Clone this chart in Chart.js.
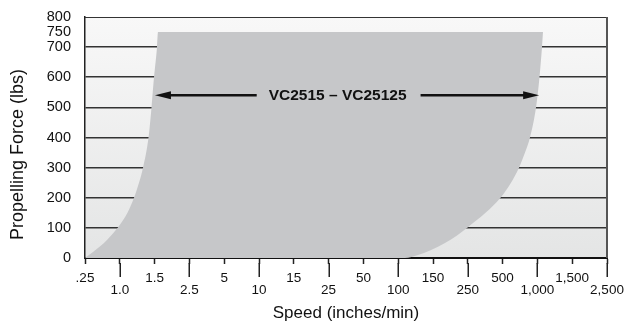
<!DOCTYPE html>
<html>
<head>
<meta charset="utf-8">
<script src="https://cdn.jsdelivr.net/npm/chart.js@4.4.0/dist/chart.umd.min.js"></script>
<style>
  html, body { margin: 0; padding: 0; background: #fff; }
  #wrap { width: 626px; height: 325px; }
</style>
</head>
<body>
<div id="wrap"><canvas id="forceChart" width="626" height="325"></canvas></div>
<script>
// speed axis is evenly spaced, labels are not
const speedLabels = ['.25', '1.0', '1.5', '2.5', '5', '10', '15', '25', '50', '100', '150', '250', '500', '1,000', '1,500', '2,500'];
const forceTicks = [0, 100, 200, 300, 400, 500, 600, 700, 750, 800];

// left edge of the envelope + flat top (x = position on speed axis, y = lbs)
const leftEdgeX = [0, 0.23, 0.445, 0.632, 0.79, 0.934, 1.092, 1.221, 1.408, 1.552, 1.667, 1.825, 1.911, 1.983, 2.069, 2.098, 13.16];
const leftEdgeY = [0, 20, 40, 60, 80, 100, 125, 150, 200, 250, 300, 400, 500, 600, 700, 750, 750];
// right edge of the envelope
const rightEdgeX = [0, 9.195, 9.569, 9.914, 10.345, 10.69, 10.977, 11.25, 11.509, 11.94, 12.241, 12.471, 12.644, 12.787, 12.96, 13.06, 13.132, 13.161];
const rightEdgeY = [0, 0, 10, 25, 50, 75, 100, 125, 150, 200, 250, 300, 350, 400, 500, 600, 700, 750];

// range arrow
const arrowLabel = 'VC2515 \u2013 VC25125';
const arrowForce = 540;
const arrowFrom = 2.01;
const arrowTo = 13.05;
const arrowLabelAt = 7.26;

const xTitle = 'Speed (inches/min)';
const yTitle = 'Propelling Force (lbs)';

const regular = "'Liberation Sans', Arial, sans-serif";

const toPoints = (xs, ys) => xs.map((v, i) => ({ x: v, y: ys[i] }));

const envelopeDecor = {
  id: 'envelopeDecor',
  beforeDraw(chart) {
    const { ctx, chartArea: a } = chart;
    const g = ctx.createLinearGradient(0, a.top, 0, a.bottom);
    g.addColorStop(0, '#f8f8f8');
    g.addColorStop(1, '#e4e5e5');
    ctx.save();
    ctx.fillStyle = g;
    ctx.fillRect(a.left, a.top, a.right - a.left, a.bottom - a.top);
    ctx.restore();
  },
  afterDraw(chart) {
    const { ctx, chartArea: a, scales: { x, y } } = chart;
    ctx.save();

    // top and right frame
    ctx.strokeStyle = '#333';
    ctx.lineWidth = 1.2;
    ctx.beginPath();
    ctx.moveTo(a.left, a.top + 0.5);
    ctx.lineTo(a.right, a.top + 0.5);
    ctx.stroke();
    ctx.strokeStyle = '#555';
    ctx.lineWidth = 2;
    ctx.beginPath();
    ctx.moveTo(a.right, a.top);
    ctx.lineTo(a.right, a.bottom);
    ctx.stroke();

    // longer ticks under the lower row of labels
    ctx.strokeStyle = '#222';
    ctx.lineWidth = 1.5;
    ctx.beginPath();
    speedLabels.forEach((lab, i) => {
      if (i % 2) {
        const px = Math.round(x.getPixelForValue(i)) + 0.25;
        ctx.moveTo(px, a.bottom + 5);
        ctx.lineTo(px, a.bottom + 19);
      }
    });
    ctx.stroke();

    // range arrow
    const ay = y.getPixelForValue(arrowForce);
    const xl = x.getPixelForValue(arrowFrom);
    const xr = x.getPixelForValue(arrowTo);
    const xc = x.getPixelForValue(arrowLabelAt);
    ctx.font = 'bold 15.5px ' + regular;
    const tw = ctx.measureText(arrowLabel).width;
    ctx.fillStyle = '#111';
    ctx.textAlign = 'center';
    ctx.textBaseline = 'middle';
    ctx.fillText(arrowLabel, xc, ay);
    ctx.strokeStyle = '#111';
    ctx.lineWidth = 2.5;
    ctx.beginPath();
    ctx.moveTo(xl + 12, ay);
    ctx.lineTo(xc - tw / 2 - 12, ay);
    ctx.moveTo(xc + tw / 2 + 14, ay);
    ctx.lineTo(xr - 12, ay);
    ctx.stroke();
    const head = (px, dir) => {
      ctx.beginPath();
      ctx.moveTo(px, ay);
      ctx.lineTo(px + dir * 16, ay - 4);
      ctx.lineTo(px + dir * 16, ay + 4);
      ctx.closePath();
      ctx.fill();
    };
    head(xl, 1);
    head(xr, -1);

    // axis titles
    ctx.font = '17px ' + regular;
    ctx.fillText(xTitle, (a.left + a.right) / 2, 313);
    ctx.translate(18, (a.top + a.bottom) / 2 + 17);
    ctx.rotate(-Math.PI / 2);
    ctx.font = '18px ' + regular;
    ctx.fillText(yTitle, 0, 0);

    ctx.restore();
  }
};

const ctx = document.getElementById('forceChart').getContext('2d');
const forceChart = new Chart(ctx, {
  type: 'line',
  data: {
    datasets: [{
      label: 'VC2515 - VC25125',
      data: toPoints(leftEdgeX, leftEdgeY),
      borderWidth: 0,
      pointRadius: 0,
      backgroundColor: '#c6c7c9',
      fill: 1,
      cubicInterpolationMode: 'monotone'
    }, {
      label: 'right edge',
      data: toPoints(rightEdgeX, rightEdgeY),
      borderWidth: 0,
      pointRadius: 0,
      fill: false,
      cubicInterpolationMode: 'monotone'
    }]
  },
  options: {
    responsive: false,
    animation: false,
    events: [],
    layout: { padding: { top: 17, right: 19, left: 0, bottom: 0 } },
    plugins: { legend: { display: false }, tooltip: { enabled: false } },
    scales: {
      x: {
        type: 'linear',
        min: 0,
        max: 15,
        z: 1,
        afterBuildTicks: s => { s.ticks = speedLabels.map((_, i) => ({ value: i })); },
        afterFit: s => { s.height = 67; s.paddingLeft = 0; s.paddingRight = 0; },
        ticks: {
          autoSkip: false,
          maxRotation: 0,
          padding: 8,
          color: '#111',
          font: { family: regular, size: 13.5, lineHeight: 0.9 },
          callback: v => (v % 2 ? ['', speedLabels[v]] : speedLabels[v])
        },
        grid: { drawOnChartArea: false, drawTicks: true, tickLength: 6, tickColor: '#222', tickWidth: 1.5 },
        border: { color: '#111', width: 2 }
      },
      y: {
        min: 0,
        max: 800,
        z: 1,
        afterBuildTicks: s => { s.ticks = forceTicks.map(v => ({ value: v })); },
        afterFit: s => { s.width = 85; s.paddingTop = 0; s.paddingBottom = 0; },
        ticks: {
          autoSkip: false,
          padding: 14,
          color: '#111',
          font: { family: regular, size: 14.5 }
        },
        grid: {
          drawTicks: false,
          lineWidth: 1.6,
          color: c => (c.tick && c.tick.value > 0 && c.tick.value <= 700 ? '#333' : 'rgba(0,0,0,0)')
        },
        border: { color: '#222', width: 1.5 }
      }
    }
  },
  plugins: [envelopeDecor]
});
</script>
</body>
</html>
